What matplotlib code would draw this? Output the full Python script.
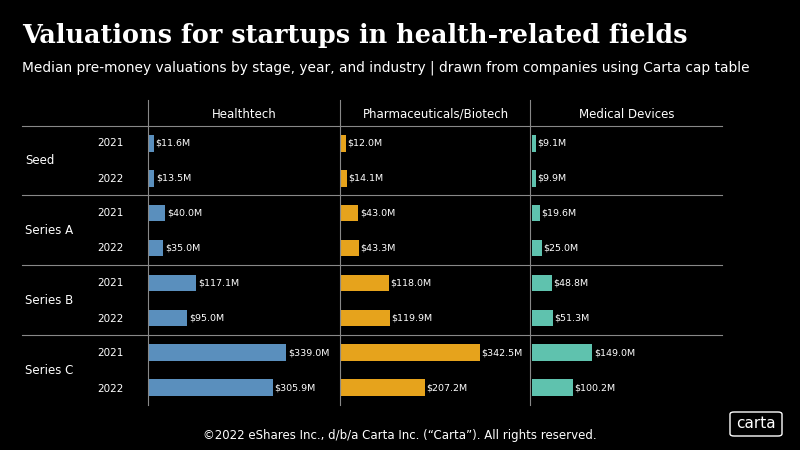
import matplotlib
matplotlib.use("Agg")
import matplotlib.pyplot as plt
from matplotlib.lines import Line2D
from matplotlib.patches import FancyBboxPatch

stages = ["Seed", "Series A", "Series B", "Series C"]
years = ["2021", "2022"]
industries = ["Healthtech", "Pharmaceuticals/Biotech", "Medical Devices"]
healthtech = [11.6, 13.5, 40.0, 35.0, 117.1, 95.0, 339.0, 305.9]
pharma = [12.0, 14.1, 43.0, 43.3, 118.0, 119.9, 342.5, 207.2]
meddev = [9.1, 9.9, 19.6, 25.0, 48.8, 51.3, 149.0, 100.2]
colors = ["#5a8fbd", "#e6a31c", "#5fc2ae"]

W, H = 800, 450
fig = plt.figure(figsize=(8, 4.5), dpi=100, facecolor="black")

def fx(x): return x / W
def fy(y): return 1 - y / H

fig.text(fx(22), fy(35), "Valuations for startups in health-related fields", color="white",
         family="DejaVu Serif", weight="bold", fontsize=18.4, va="center")
fig.text(fx(22), fy(68), "Median pre-money valuations by stage, year, and industry | drawn from companies using Carta cap table",
         color="white", fontsize=9.9, va="center")

top, bot = 126, 405
lefts = [149, 341, 532]
for i, (data, name) in enumerate(zip([healthtech, pharma, meddev], industries)):
    ax = fig.add_axes([fx(lefts[i]), fy(bot), fx(185), (bot - top) / H])
    ax.set_facecolor("black")
    ys = list(range(8))
    ax.barh(ys, data, height=0.47, color=colors[i])
    for y, v in zip(ys, data):
        ax.text(v + 4, y, f"${v:.1f}M", color="white", fontsize=6.8, va="center")
    ax.set_xlim(0, 457)
    ax.set_ylim(7.5, -0.5)
    ax.axis("off")
    fig.text(fx(lefts[i] + 95), fy(114), name, color="white", fontsize=8.5, ha="center", va="center")

for x in [148, 340, 530]:
    fig.add_artist(Line2D([fx(x)] * 2, [fy(100), fy(bot)], color="#888888", lw=0.8))
for y in [126, 195, 265, 335]:
    fig.add_artist(Line2D([fx(22), fx(722)], [fy(y)] * 2, color="#888888", lw=0.8))

for s, st in enumerate(stages):
    yc = top + 35 * (2 * s + 1)
    fig.text(fx(25), fy(yc), st, color="white", fontsize=8.5, va="center")
    for k, yr in enumerate(years):
        fig.text(fx(124), fy(top + 17.5 + 35 * (2 * s + k)), yr, color="white", fontsize=7.5, ha="right", va="center")

fig.text(0.5, fy(436), "©2022 eShares Inc., d/b/a Carta Inc. (\u201cCarta\u201d). All rights reserved.",
         color="white", fontsize=8.5, ha="center", va="center")
fig.add_artist(FancyBboxPatch((fx(730), fy(436)), fx(52), 24 / H, boxstyle="round,pad=0,rounding_size=0.005",
                              fill=False, ec="white", lw=1, transform=fig.transFigure))
fig.text(fx(756), fy(424), "carta", color="white", fontsize=11, ha="center", va="center")

fig.savefig("out.png", facecolor="black")
